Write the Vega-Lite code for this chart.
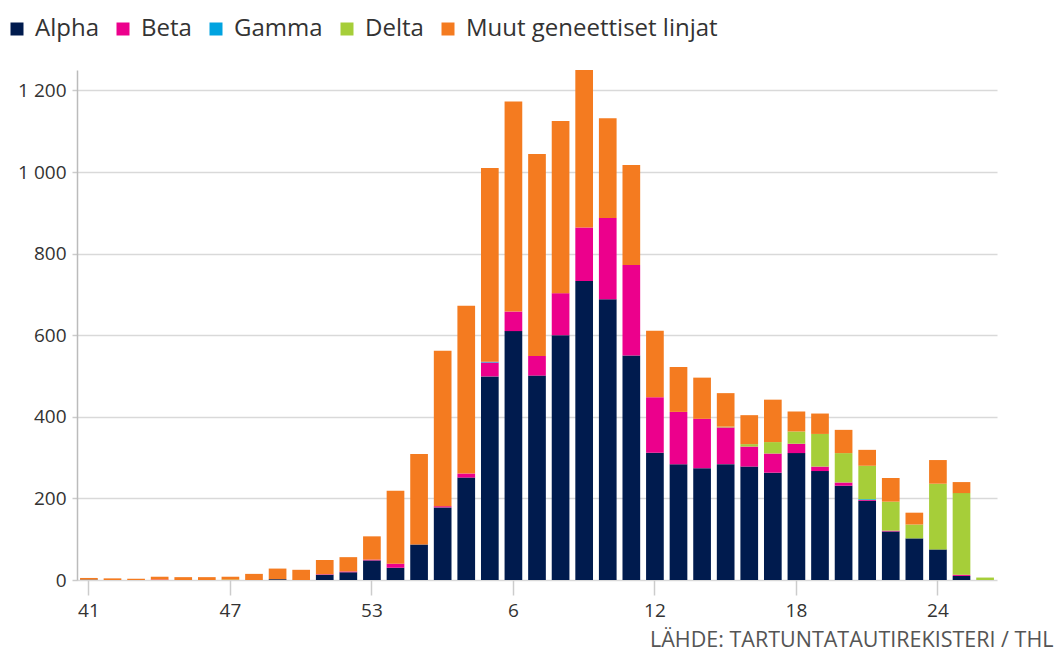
{
  "$schema": "https://vega.github.io/schema/vega-lite/v6.json",
  "width": 920,
  "height": 510,
  "autosize": "none",
  "padding": {"left": 77, "top": 70, "right": 61, "bottom": 77},
  "background": "white",
  "config": {
    "font": "Open Sans",
    "view": {"stroke": null}
  },
  "data": {
    "values": [
      {"week": 41, "variant": "Alpha", "n": 1},
      {"week": 41, "variant": "Muut geneettiset linjat", "n": 4},
      {"week": 42, "variant": "Muut geneettiset linjat", "n": 4},
      {"week": 43, "variant": "Muut geneettiset linjat", "n": 3},
      {"week": 44, "variant": "Beta", "n": 1},
      {"week": 44, "variant": "Muut geneettiset linjat", "n": 7},
      {"week": 45, "variant": "Muut geneettiset linjat", "n": 7},
      {"week": 46, "variant": "Muut geneettiset linjat", "n": 7},
      {"week": 47, "variant": "Delta", "n": 1},
      {"week": 47, "variant": "Muut geneettiset linjat", "n": 7},
      {"week": 48, "variant": "Muut geneettiset linjat", "n": 15},
      {"week": 49, "variant": "Alpha", "n": 2},
      {"week": 49, "variant": "Muut geneettiset linjat", "n": 26},
      {"week": 50, "variant": "Muut geneettiset linjat", "n": 25},
      {"week": 51, "variant": "Alpha", "n": 13},
      {"week": 51, "variant": "Beta", "n": 1},
      {"week": 51, "variant": "Muut geneettiset linjat", "n": 35},
      {"week": 52, "variant": "Alpha", "n": 19},
      {"week": 52, "variant": "Beta", "n": 2},
      {"week": 52, "variant": "Muut geneettiset linjat", "n": 35},
      {"week": 53, "variant": "Alpha", "n": 48},
      {"week": 53, "variant": "Beta", "n": 2},
      {"week": 53, "variant": "Muut geneettiset linjat", "n": 57},
      {"week": 1, "variant": "Alpha", "n": 30},
      {"week": 1, "variant": "Beta", "n": 10},
      {"week": 1, "variant": "Muut geneettiset linjat", "n": 179},
      {"week": 2, "variant": "Alpha", "n": 87},
      {"week": 2, "variant": "Muut geneettiset linjat", "n": 222},
      {"week": 3, "variant": "Alpha", "n": 178},
      {"week": 3, "variant": "Beta", "n": 3},
      {"week": 3, "variant": "Muut geneettiset linjat", "n": 381},
      {"week": 4, "variant": "Alpha", "n": 251},
      {"week": 4, "variant": "Beta", "n": 10},
      {"week": 4, "variant": "Muut geneettiset linjat", "n": 411},
      {"week": 5, "variant": "Alpha", "n": 499},
      {"week": 5, "variant": "Beta", "n": 34},
      {"week": 5, "variant": "Gamma", "n": 2},
      {"week": 5, "variant": "Muut geneettiset linjat", "n": 475},
      {"week": 6, "variant": "Alpha", "n": 610},
      {"week": 6, "variant": "Beta", "n": 48},
      {"week": 6, "variant": "Muut geneettiset linjat", "n": 515},
      {"week": 7, "variant": "Alpha", "n": 501},
      {"week": 7, "variant": "Beta", "n": 48},
      {"week": 7, "variant": "Muut geneettiset linjat", "n": 495},
      {"week": 8, "variant": "Alpha", "n": 600},
      {"week": 8, "variant": "Beta", "n": 103},
      {"week": 8, "variant": "Muut geneettiset linjat", "n": 422},
      {"week": 9, "variant": "Alpha", "n": 733},
      {"week": 9, "variant": "Beta", "n": 131},
      {"week": 9, "variant": "Muut geneettiset linjat", "n": 386},
      {"week": 10, "variant": "Alpha", "n": 688},
      {"week": 10, "variant": "Beta", "n": 199},
      {"week": 10, "variant": "Muut geneettiset linjat", "n": 245},
      {"week": 11, "variant": "Alpha", "n": 550},
      {"week": 11, "variant": "Beta", "n": 222},
      {"week": 11, "variant": "Muut geneettiset linjat", "n": 245},
      {"week": 12, "variant": "Alpha", "n": 312},
      {"week": 12, "variant": "Beta", "n": 136},
      {"week": 12, "variant": "Muut geneettiset linjat", "n": 163},
      {"week": 13, "variant": "Alpha", "n": 284},
      {"week": 13, "variant": "Beta", "n": 128},
      {"week": 13, "variant": "Muut geneettiset linjat", "n": 110},
      {"week": 14, "variant": "Alpha", "n": 274},
      {"week": 14, "variant": "Beta", "n": 121},
      {"week": 14, "variant": "Muut geneettiset linjat", "n": 101},
      {"week": 15, "variant": "Alpha", "n": 284},
      {"week": 15, "variant": "Beta", "n": 90},
      {"week": 15, "variant": "Delta", "n": 2},
      {"week": 15, "variant": "Muut geneettiset linjat", "n": 82},
      {"week": 16, "variant": "Alpha", "n": 278},
      {"week": 16, "variant": "Beta", "n": 49},
      {"week": 16, "variant": "Delta", "n": 6},
      {"week": 16, "variant": "Muut geneettiset linjat", "n": 71},
      {"week": 17, "variant": "Alpha", "n": 263},
      {"week": 17, "variant": "Beta", "n": 47},
      {"week": 17, "variant": "Delta", "n": 28},
      {"week": 17, "variant": "Muut geneettiset linjat", "n": 104},
      {"week": 18, "variant": "Alpha", "n": 311},
      {"week": 18, "variant": "Beta", "n": 23},
      {"week": 18, "variant": "Delta", "n": 30},
      {"week": 18, "variant": "Muut geneettiset linjat", "n": 49},
      {"week": 19, "variant": "Alpha", "n": 267},
      {"week": 19, "variant": "Beta", "n": 11},
      {"week": 19, "variant": "Delta", "n": 80},
      {"week": 19, "variant": "Muut geneettiset linjat", "n": 50},
      {"week": 20, "variant": "Alpha", "n": 231},
      {"week": 20, "variant": "Beta", "n": 8},
      {"week": 20, "variant": "Delta", "n": 72},
      {"week": 20, "variant": "Muut geneettiset linjat", "n": 57},
      {"week": 21, "variant": "Alpha", "n": 194},
      {"week": 21, "variant": "Beta", "n": 2},
      {"week": 21, "variant": "Gamma", "n": 2},
      {"week": 21, "variant": "Delta", "n": 82},
      {"week": 21, "variant": "Muut geneettiset linjat", "n": 39},
      {"week": 22, "variant": "Alpha", "n": 119},
      {"week": 22, "variant": "Beta", "n": 2},
      {"week": 22, "variant": "Delta", "n": 71},
      {"week": 22, "variant": "Muut geneettiset linjat", "n": 58},
      {"week": 23, "variant": "Alpha", "n": 102},
      {"week": 23, "variant": "Delta", "n": 34},
      {"week": 23, "variant": "Muut geneettiset linjat", "n": 29},
      {"week": 24, "variant": "Alpha", "n": 75},
      {"week": 24, "variant": "Delta", "n": 161},
      {"week": 24, "variant": "Muut geneettiset linjat", "n": 58},
      {"week": 25, "variant": "Alpha", "n": 10},
      {"week": 25, "variant": "Beta", "n": 3},
      {"week": 25, "variant": "Delta", "n": 200},
      {"week": 25, "variant": "Muut geneettiset linjat", "n": 27},
      {"week": 26, "variant": "Delta", "n": 6}
    ]
  },
  "transform": [
    {"calculate": "indexof(['Alpha','Beta','Gamma','Delta','Muut geneettiset linjat'], datum.variant)", "as": "stackOrder"}
  ],
  "mark": {"type": "bar"},
  "encoding": {
    "x": {
      "field": "week",
      "type": "ordinal",
      "sort": [41,42,43,44,45,46,47,48,49,50,51,52,53,1,2,3,4,5,6,7,8,9,10,11,12,13,14,15,16,17,18,19,20,21,22,23,24,25,26],
      "scale": {"paddingInner": 0.25, "paddingOuter": 0.13},
      "axis": {
        "values": [41,47,53,6,12,18,24],
        "labelAngle": 0,
        "labelFontSize": 19,
        "labelColor": "#333333",
        "labelPadding": 6,
        "domain": false,
        "ticks": true,
        "tickSize": 15,
        "tickColor": "#cccccc",
        "tickWidth": 1.5,
        "title": "LÄHDE: TARTUNTATAUTIREKISTERI / THL",
        "titleFontSize": 21.5,
        "titleFontWeight": "normal",
        "titleColor": "#555555",
        "titleAlign": "right",
        "titleAnchor": null,
        "titleX": 976,
        "titleY": 60,
        "titleBaseline": "middle"
      }
    },
    "y": {
      "field": "n",
      "type": "quantitative",
      "stack": "zero",
      "scale": {"domain": [0, 1250], "nice": false},
      "axis": {
        "values": [0,200,400,600,800,1000,1200],
        "labelExpr": "replace(format(datum.value, ','), ',', ' ')",
        "labelFontSize": 19,
        "labelColor": "#333333",
        "labelPadding": 6,
        "domain": true,
        "domainColor": "#bbbbbb",
        "domainWidth": 1.5,
        "ticks": true,
        "tickSize": 5,
        "tickColor": "#cccccc",
        "tickWidth": 1.5,
        "grid": true,
        "gridColor": "#d9d9d9",
        "gridWidth": 1.5,
        "title": null
      }
    },
    "order": {"field": "stackOrder", "type": "quantitative", "sort": "ascending"},
    "color": {
      "field": "variant",
      "type": "nominal",
      "sort": ["Alpha", "Beta", "Gamma", "Delta", "Muut geneettiset linjat"],
      "scale": {
        "domain": ["Alpha", "Beta", "Gamma", "Delta", "Muut geneettiset linjat"],
        "range": ["#001b4e", "#ec008c", "#00a3e0", "#a6ce39", "#f47b20"]
      },
      "legend": {
        "title": null,
        "orient": "none",
        "direction": "horizontal",
        "columns": 5,
        "legendX": -72,
        "legendY": -53,
        "symbolType": "square",
        "symbolSize": 169,
        "symbolStrokeWidth": 0,
        "symbolOpacity": 1,
        "labelFontSize": 24,
        "labelColor": "#333333",
        "labelOffset": 6,
        "columnPadding": 12,
        "labelLimit": 400
      }
    }
  }
}
